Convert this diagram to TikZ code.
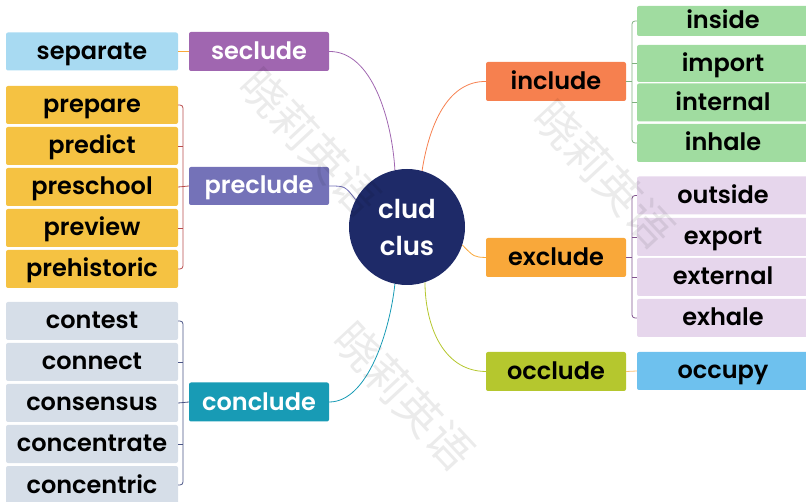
\documentclass[tikz,border=0pt]{standalone}
\usepackage{fontspec}
\setmainfont{Poppins}[BoldFont={Poppins SemiBold}]
\newfontfamily\cjk{Noto Sans CJK SC}

\definecolor{navy}{RGB}{30,42,104}
\definecolor{skyblue}{RGB}{168,218,242}
\definecolor{secpurple}{RGB}{160,102,176}
\definecolor{preyellow}{RGB}{245,194,66}
\definecolor{preblue}{RGB}{116,114,184}
\definecolor{congray}{RGB}{214,222,232}
\definecolor{conteal}{RGB}{24,155,181}
\definecolor{incoral}{RGB}{246,128,79}
\definecolor{ingreen}{RGB}{160,220,160}
\definecolor{exorange}{RGB}{249,168,58}
\definecolor{exlilac}{RGB}{230,214,236}
\definecolor{occlime}{RGB}{181,199,46}
\definecolor{occblue}{RGB}{110,193,238}

\begin{document}
\begin{tikzpicture}[x=1pt, y=-1pt,
    box/.style={rounded corners=2pt, inner sep=0pt, minimum height=38pt,
      text height=18pt, text depth=2pt,
      font=\bfseries\fontsize{24}{28}\selectfont},
    leaf/.style={box, minimum width=172pt},
    mid/.style={box, minimum width=140pt, minimum height=39pt},
    hub/.style={line width=0.8pt},
    brk/.style={line width=0.8pt, rounded corners=3pt},
    wmark/.style={font=\cjk\fontsize{45}{45}\selectfont, text=black, opacity=0.08, rotate=-47}]
  \useasboundingbox (0,0) rectangle (806,502);

  % centre
  \node[circle, fill=navy, minimum size=116pt, align=center, text=white,
    font=\bfseries\fontsize{26}{37}\selectfont] (root) at (407,227) {clud\\clus};

  % left side
  \node[leaf, fill=skyblue] (separate) at (92,51.5) {separate};
  \node[mid, fill=secpurple, text=white] (seclude) at (259,51.5) {seclude};

  \node[leaf, fill=preyellow] (prepare) at (92,105) {prepare};
  \node[leaf, fill=preyellow] (predict) at (92,146) {predict};
  \node[leaf, fill=preyellow] (preschool) at (92,187) {preschool};
  \node[leaf, fill=preyellow] (preview) at (92,228) {preview};
  \node[leaf, fill=preyellow] (prehistoric) at (92,269) {prehistoric};
  \node[mid, fill=preblue, text=white, minimum height=38pt] (preclude) at (259,186) {preclude};

  \node[leaf, fill=congray] (contest) at (92,321) {contest};
  \node[leaf, fill=congray] (connect) at (92,362) {connect};
  \node[leaf, fill=congray] (consensus) at (92,403) {consensus};
  \node[leaf, fill=congray] (concentrate) at (92,444) {concentrate};
  \node[leaf, fill=congray] (concentric) at (92,485) {concentric};
  \node[mid, fill=conteal, text=white] (conclude) at (259,402) {conclude};

  % right side
  \node[mid, fill=incoral] (include) at (556,81.5) {include};
  \node[leaf, fill=ingreen, minimum height=30pt] (inside) at (723,21) {inside};
  \node[leaf, fill=ingreen, minimum height=37pt] (import) at (723,63.5) {import};
  \node[leaf, fill=ingreen] (internal) at (723,102.5) {internal};
  \node[leaf, fill=ingreen] (inhale) at (723,143) {inhale};

  \node[mid, fill=exorange] (exclude) at (556,257.5) {exclude};
  \node[leaf, fill=exlilac] (outside) at (723,195.5) {outside};
  \node[leaf, fill=exlilac] (export) at (723,237) {export};
  \node[leaf, fill=exlilac] (external) at (723,277) {external};
  \node[leaf, fill=exlilac] (exhale) at (723,318) {exhale};

  \node[mid, fill=occlime] (occlude) at (556,371.5) {occlude};
  \node[leaf, fill=occblue] (occupy) at (723,371) {occupy};

  % branches from the centre
  \draw[hub, secpurple] (seclude.east) .. controls (372,51) and (392,120) .. (root.102);
  \draw[hub, preblue] (preclude.east) .. controls (345,186) .. (root.152);
  \draw[hub, conteal] (conclude.east) .. controls (368,402) and (390,330) .. (root.258);
  \draw[hub, incoral] (include.west) .. controls (450,81) and (430,120) .. (root.75);
  \draw[hub, exorange] (exclude.west) .. controls (474,257) .. (root.-18);
  \draw[hub, occlime] (occlude.west) .. controls (440,371) and (425,320) .. (root.-72);

  % brackets
  \coordinate (xl) at (183,0);
  \coordinate (xr) at (632,0);
  \draw[hub, exorange] (separate.east) -- (seclude.west);

  \draw[brk, red!60!black!70] (prepare.east) -- (prepare.east -| xl)
    -- (prehistoric.east -| xl) -- (prehistoric.east);
  \foreach \n in {predict, preview}
    \draw[brk, red!60!black!70] (\n.east) -- (\n.east -| xl);
  \draw[brk, red!60!black!70] (preschool.east) -- (preclude.west);

  \draw[brk, navy!80] (contest.east) -- (contest.east -| xl)
    -- (concentric.east -| xl) -- (concentric.east);
  \foreach \n in {connect, concentrate}
    \draw[brk, navy!80] (\n.east) -- (\n.east -| xl);
  \draw[brk, navy!80] (consensus.east) -- (conclude.west);

  \draw[brk, ingreen!80!black] (inside.west) -- (inside.west -| xr)
    -- (inhale.west -| xr) -- (inhale.west);
  \foreach \n in {import, internal}
    \draw[brk, ingreen!80!black] (\n.west) -- (\n.west -| xr);
  \draw[brk, ingreen!80!black] (include.east) -- (include.east -| xr);

  \draw[brk, secpurple!80!black] (outside.west) -- (outside.west -| xr)
    -- (exhale.west -| xr) -- (exhale.west);
  \foreach \n in {export, external}
    \draw[brk, secpurple!80!black] (\n.west) -- (\n.west -| xr);
  \draw[brk, secpurple!80!black] (exclude.east) -- (exclude.east -| xr);

  \draw[hub, exorange!70] (occlude.east) -- (occupy.west);

  % watermark
  \node[wmark] (wm1) at (310,142) {晓莉英语};
  \node[wmark] (wm2) at (604,174) {晓莉英语};
  \node[wmark] (wm3) at (404,396) {晓莉英语};
\end{tikzpicture}
\end{document}
